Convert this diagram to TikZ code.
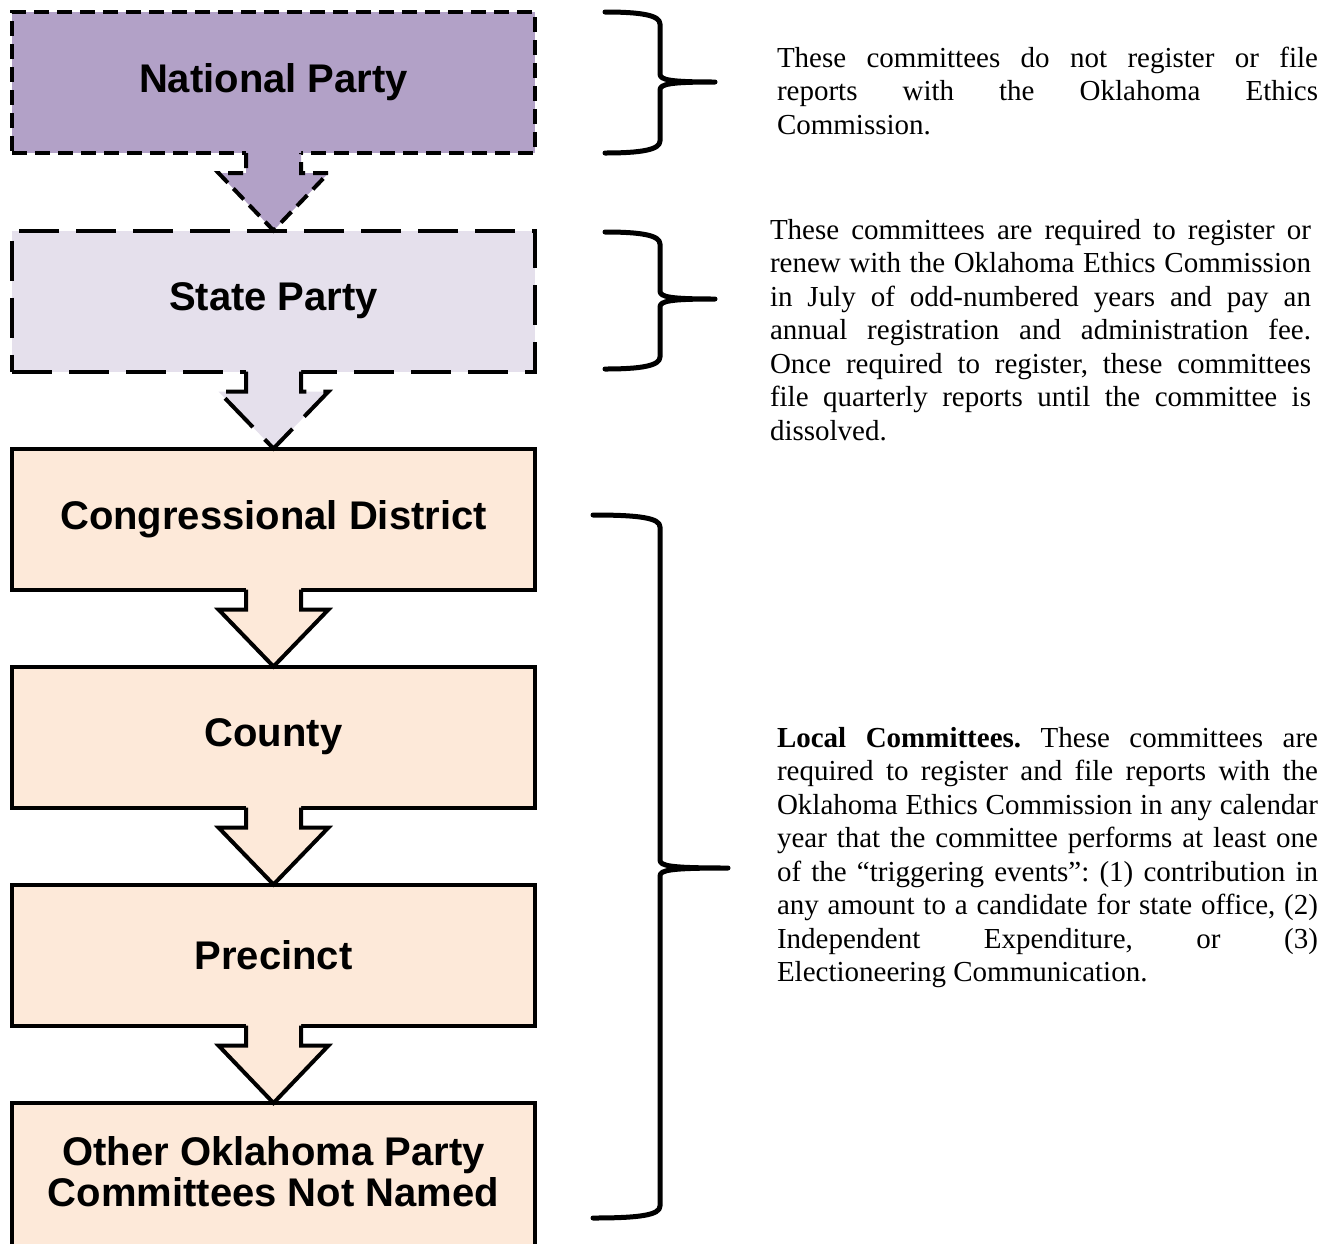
\documentclass[tikz,border=0pt]{standalone}
\usepackage{fontspec}
\setmainfont{Liberation Serif}
\newfontfamily\boxfont{Liberation Sans}
\usetikzlibrary{calc}
\definecolor{natc}{HTML}{B2A1C7}
\definecolor{statec}{HTML}{E5E0EC}
\definecolor{locc}{HTML}{FDE9D9}
\tikzset{
 tier/.style={draw=black, line width=4pt, minimum width=523pt, minimum height=141pt,
   inner sep=0pt, outer sep=0pt, align=center,
   font=\boxfont\bfseries\fontsize{40}{41}\selectfont},
 shortdash/.style={dash pattern=on 15pt off 8pt},
 longdash/.style={dash pattern=on 40pt off 17pt},
 bracepath/.style={line width=5pt, line cap=round, line join=round},
 note/.style={anchor=base west, inner sep=0pt, outer sep=0pt,
   font=\fontsize{29}{33.5}\selectfont},
}
\newcommand\tierarrow[4]{%
 \fill[#3] ($(#1.south)+(-27.5,-3)$) -- ($(#1.south)+(-27.5,20)$) -- ($(#1.south)+(-55,20)$)
   -- (#2.north) -- ($(#1.south)+(55,20)$) -- ($(#1.south)+(27.5,20)$) -- ($(#1.south)+(27.5,-3)$) -- cycle;
 \draw[line width=4pt, line join=miter, #4] ($(#1.south)+(-27.5,0)$) -- ($(#1.south)+(-27.5,20)$) -- ($(#1.south)+(-55,20)$)
   -- (#2.north) -- ($(#1.south)+(55,20)$) -- ($(#1.south)+(27.5,20)$) -- ($(#1.south)+(27.5,0)$);}
\newcommand\drawbrace[6]{%
 \draw[bracepath] (#1,#4) .. controls ({#2-20},#4) and (#2,{#4+3}) .. (#2,{#4+12})
   -- (#2,{#5-8}) .. controls (#2,{#5-2}) and ({#2+10},#5) .. (#3,#5)
   .. controls ({#2+10},#5) and (#2,{#5+2}) .. (#2,{#5+8})
   -- (#2,{#6-12}) .. controls (#2,{#6-3}) and ({#2-20},#6) .. (#1,#6);}
\begin{document}
\frenchspacing
\begin{tikzpicture}[x=1pt,y=-1pt]
\useasboundingbox (0,0) rectangle (1336,1243);
\clip (0,0) rectangle (1336,1243);
\fill[white] (0,0) rectangle (1336,1243);
\tolerance=10000
\node[tier, fill=natc, shortdash] (np) at (273.5,82.5) {National Party};
\node[tier, fill=statec, longdash] (sp) at (273.5,301) {State Party};
\node[tier, fill=locc] (cd) at (273.5,519) {Congressional District};
\node[tier, fill=locc] (co) at (273.5,737) {County};
\node[tier, fill=locc] (pr) at (273.5,955) {Precinct};
\node[tier, fill=locc, minimum height=148pt, anchor=north] (ot) at (273.5,1103) {\raisebox{0pt}[\height][\dimexpr\depth+10pt\relax]{\parbox{500pt}{\centering Other Oklahoma Party\\Committees Not Named}}};
\tierarrow{np}{sp}{natc}{shortdash}
\tierarrow{sp}{cd}{statec}{longdash}
\tierarrow{cd}{co}{locc}{}
\tierarrow{co}{pr}{locc}{}
\tierarrow{pr}{ot}{locc}{}
\drawbrace{605}{660}{715}{12}{82}{153}
\drawbrace{605}{660}{715}{232}{299}{369}
\drawbrace{593}{660}{728}{515}{868}{1218}
\node[note] (n1) at (777,67) {\parbox[t]{541pt}{\tolerance=10000 These committees do not register or file\linebreak reports with the Oklahoma Ethics\linebreak Commission.}};
\node[note] (n2) at (770,239) {\parbox[t]{541pt}{\tolerance=10000 These committees are required to register or\linebreak renew with the Oklahoma Ethics Commission\linebreak in July of odd-numbered years and pay an\linebreak annual registration and administration fee.\linebreak Once required to register, these committees\linebreak file quarterly reports until the committee is\linebreak dissolved.}};
\node[note] (n3) at (777,747) {\parbox[t]{541pt}{\tolerance=10000 \textbf{Local Committees.} These committees are\linebreak required to register and file reports with the\linebreak Oklahoma Ethics Commission in any calendar\linebreak year that the committee performs at least one\linebreak of the “triggering events”: (1) contribution in\linebreak any amount to a candidate for state office, (2)\linebreak Independent Expenditure, or (3)\linebreak Electioneering Communication.}};
\end{tikzpicture}
\end{document}
